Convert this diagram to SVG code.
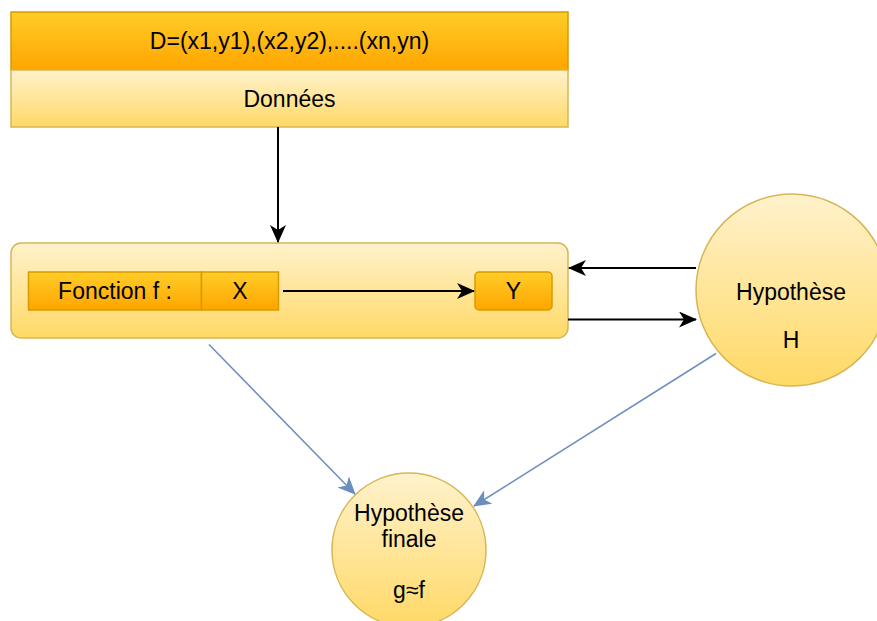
<svg xmlns="http://www.w3.org/2000/svg" width="877" height="621" viewBox="0 0 877 621">
  <defs>
    <linearGradient id="gOrange" x1="0" y1="0" x2="0" y2="1">
      <stop offset="0" stop-color="#ffcd28"/>
      <stop offset="1" stop-color="#ffa500"/>
    </linearGradient>
    <linearGradient id="gYellow" x1="0" y1="0" x2="0" y2="1">
      <stop offset="0" stop-color="#fff2cc"/>
      <stop offset="1" stop-color="#ffd966"/>
    </linearGradient>
    <marker id="arrowBlack" markerUnits="userSpaceOnUse" markerWidth="18" markerHeight="16" viewBox="0 0 18 16" refX="17" refY="8" orient="auto">
      <path d="M0,0 L18,8 L0,16 L5,8 Z" fill="#000"/>
    </marker>
    <marker id="arrowBlue" markerUnits="userSpaceOnUse" markerWidth="18" markerHeight="16" viewBox="0 0 18 16" refX="17" refY="8" orient="auto">
      <path d="M0,0 L18,8 L0,16 L5,8 Z" fill="#6c8ebf"/>
    </marker>
  </defs>
  <style>
    text { font-family: "Liberation Sans", Arial, Helvetica, sans-serif; font-size: 23px; fill: #000; text-anchor: middle; dominant-baseline: central; }
    .orange { fill: url(#gOrange); stroke: #d79b00; stroke-width: 1.5; }
    .yellow { fill: url(#gYellow); stroke: #d6b656; stroke-width: 1.5; }
    .link { fill: none; stroke: #000; stroke-width: 2; marker-end: url(#arrowBlack); }
    .blue { fill: none; stroke: #6c8ebf; stroke-width: 1.5; marker-end: url(#arrowBlue); }
  </style>

  <rect width="877" height="621" fill="#ffffff"/>

  <!-- data set: header and label -->
  <g id="donnees">
    <rect class="orange" x="11" y="12" width="557" height="58"/>
    <rect class="yellow" x="11" y="70" width="557" height="57"/>
    <text x="289.5" y="41">D=(x1,y1),(x2,y2),....(xn,yn)</text>
    <text x="289.5" y="98.5">Données</text>
  </g>

  <!-- function container -->
  <g id="fonction">
    <rect class="yellow" x="11" y="243" width="557" height="95" rx="10" ry="10"/>
  </g>
  <g id="fonction-label">
    <rect class="orange" x="28.5" y="272" width="173" height="38"/>
    <text x="115" y="291">Fonction f :</text>
  </g>
  <g id="x">
    <rect class="orange" x="201.5" y="272" width="77" height="38"/>
    <text x="240" y="291">X</text>
  </g>
  <g id="y">
    <rect class="orange" x="475" y="272" width="77" height="38" rx="4" ry="4"/>
    <text x="513.5" y="291">Y</text>
  </g>

  <!-- hypothesis H -->
  <g id="hypothese">
    <circle class="yellow" cx="792" cy="290" r="96"/>
    <text x="791" y="292">Hypothèse</text>
    <text x="791" y="340">H</text>
  </g>

  <!-- final hypothesis -->
  <g id="hypothese-finale">
    <circle class="yellow" cx="409" cy="550" r="77"/>
    <text x="409" y="513">Hypothèse</text>
    <text x="409" y="539">finale</text>
    <text x="409" y="590">g≈f</text>
  </g>

  <!-- connectors -->
  <g id="connectors">
    <line class="link" x1="278" y1="127" x2="278" y2="242"/>
    <line class="link" x1="283" y1="291" x2="474" y2="291"/>
    <line class="link" x1="696" y1="268" x2="569" y2="268"/>
    <line class="link" x1="568" y1="319.5" x2="696" y2="319.5"/>
    <line class="blue" x1="209" y1="344.5" x2="355" y2="494"/>
    <line class="blue" x1="716" y1="353.5" x2="474" y2="506"/>
  </g>
</svg>
